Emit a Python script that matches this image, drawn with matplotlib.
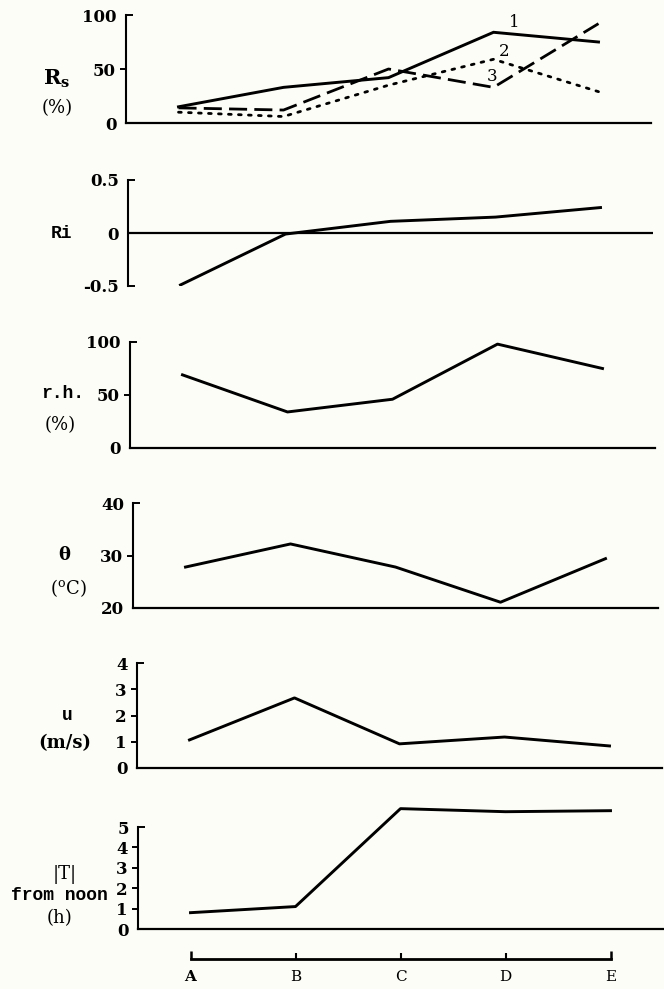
import numpy as np
import matplotlib
matplotlib.use("Agg")
import matplotlib.pyplot as plt

# station categories along the bottom
categories = ['A', 'B', 'C', 'D', 'E']

# R_s (%) : three curves
rs_1 = [15, 33, 42, 84, 75]
rs_2 = [10, 6, 35, 59, 29]
rs_3 = [14, 12, 50, 33, 92]

# Richardson number
ri = [-0.49, -0.01, 0.11, 0.15, 0.24]

# relative humidity (%)
rh = [69, 34, 46, 98, 75]

# potential temperature (deg C)
theta = [27.8, 32.2, 27.8, 21.1, 29.4]

# wind speed (m/s)
u = [1.07, 2.67, 0.92, 1.18, 0.84]

# |T| from noon (h)
t_noon = [0.8, 1.1, 5.9, 5.75, 5.8]

W, H = 664, 989
BG = '#fdfdf7'
plt.rcParams['mathtext.fontset'] = 'dejavuserif'

fig = plt.figure(figsize=(W / 100, H / 100), dpi=100, facecolor=BG)


def px(x, y):
    return x / W, 1 - y / H


def panel(spine_x, y_lo, y_hi, ylim, major, minor):
    # axes placed in pixel units, 105 px per category
    ax = fig.add_axes([spine_x / W, 1 - y_lo / H, 525 / W, (y_lo - y_hi) / H])
    ax.set_facecolor('none')
    ax.set_xlim(-0.5, 4.5)
    ax.set_ylim(*ylim)
    ax.set_xticks([])
    for s in ['top', 'right']:
        ax.spines[s].set_visible(False)
    ax.spines['left'].set_linewidth(1.5)
    ax.spines['bottom'].set_linewidth(1.6)
    ax.set_yticks(major, [f'{v:g}' for v in major])
    ax.set_yticks(minor, [f'{v:g}' for v in minor], minor=True)
    ax.tick_params(axis='y', which='major', direction='out', length=4, width=1.4, pad=3.5)
    ax.tick_params(axis='y', which='minor', direction='in', length=5, width=1.4, pad=6.5)
    for lab in ax.get_yticklabels(which='both'):
        lab.set_fontfamily('DejaVu Serif')
        lab.set_fontweight('bold')
        lab.set_fontsize(12)
    return ax


x = np.arange(len(categories))
lw = 2.1

# panel 1 : R_s
ax1 = panel(126, 123, 15, (0, 100), [50], [0, 100])
ax1.plot(x, rs_1, color='black', lw=lw, solid_joinstyle='miter')
ax1.plot(x, rs_2, color='black', lw=2.0, ls=(0, (1, 2.6)), dash_capstyle='round')
ax1.plot(x, rs_3, color='black', lw=2.0, ls=(0, (6.5, 2.6)))
ax1.text(3.2, 93, '1', fontsize=12, family='DejaVu Serif', ha='center', va='center')
ax1.text(3.1, 66, '2', fontsize=12, family='DejaVu Serif', ha='center', va='center')
ax1.text(2.99, 43, '3', fontsize=12, family='DejaVu Serif', ha='center', va='center')

# panel 2 : Ri
ax2 = panel(128, 286, 180, (-0.5, 0.5), [], [-0.5, 0, 0.5])
ax2.spines['bottom'].set_visible(False)
ax2.axhline(0, color='black', lw=1.6, xmin=0, xmax=1.0)
ax2.set_yticklabels(['-0.5', '0', '0.5'], minor=True,
                    fontfamily='DejaVu Serif', fontweight='bold', fontsize=12)
ax2.plot(x, ri, color='black', lw=lw)

# panel 3 : r.h.
ax3 = panel(130, 448, 342, (0, 100), [50], [0, 100])
ax3.plot(x, rh, color='black', lw=lw)

# panel 4 : theta
ax4 = panel(133, 608, 503, (20, 40), [30], [20, 40])
ax4.plot(x, theta, color='black', lw=lw)

# panel 5 : u
ax5 = panel(137, 768, 663, (0, 4), [1, 2, 3], [0, 4])
ax5.plot(x, u, color='black', lw=lw)

# panel 6 : |T| from noon
ax6 = panel(138, 929, 827, (0, 5), [1, 2, 3, 4], [0, 5])
ax6.plot(x, t_noon, color='black', lw=lw, clip_on=False)

# category axis at the bottom
axc = fig.add_axes([138 / W, 1 - 959 / H, 525 / W, 0.02])
axc.set_facecolor('none')
axc.set_xlim(-0.5, 4.5)
axc.set_yticks([])
for s in ['top', 'right', 'left']:
    axc.spines[s].set_visible(False)
axc.spines['bottom'].set_bounds(0, 4)
axc.spines['bottom'].set_linewidth(2.0)
axc.set_xticks([0, 4], [categories[0], categories[4]])
axc.set_xticks([1, 2, 3], categories[1:4], minor=True)
axc.tick_params(axis='x', which='major', direction='in', length=6, width=1.8, pad=8)
axc.tick_params(axis='x', which='minor', direction='in', length=4.5, width=1.5, pad=8)
for lab in axc.get_xticklabels(which='both'):
    lab.set_fontfamily('DejaVu Serif')
    lab.set_fontsize(11)
axc.get_xticklabels()[0].set_fontweight('bold')

# variable names on the left
mono = dict(family='Liberation Mono', fontweight='bold', fontsize=13, ha='center', va='center')
serif = dict(family='DejaVu Serif', fontsize=13, ha='center', va='center')

fig.text(*px(57, 79), r'$\mathbf{R_s}$', fontsize=15, ha='center', va='center')
fig.text(*px(57, 108), '(%)', **serif)
fig.text(*px(61, 233), 'Ri', **mono)
fig.text(*px(63, 394), 'r.h.', **mono)
fig.text(*px(60, 425), '(%)', **serif)
fig.text(*px(64, 555), '\u03b8', fontweight='bold', **serif)
fig.text(*px(68, 588), '($^{\\mathrm{o}}$C)', **serif)
fig.text(*px(67, 715), 'u', **mono)
fig.text(*px(65, 743), '(m/s)', fontweight='bold', **serif)
fig.text(*px(65, 875), '|T|', **serif)
fig.text(*px(59, 896), 'from noon', **mono)
fig.text(*px(60, 918), '(h)', **serif)

fig.savefig('out.png', dpi=100, facecolor=BG)
